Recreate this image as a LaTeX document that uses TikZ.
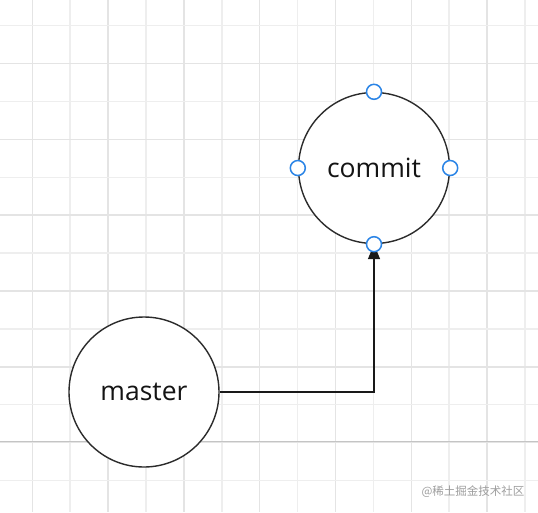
\documentclass[tikz,border=0pt]{standalone}
\usepackage{fontspec}
\setmainfont{Open Sans}
\newfontfamily\cjk{Noto Sans CJK SC}
\usepackage{tikz}
\usetikzlibrary{arrows.meta}

\definecolor{gridlight}{HTML}{EEEEEE}
\definecolor{griddark}{HTML}{E4E4E4}
\definecolor{gridmajor}{HTML}{C4C4C4}
\definecolor{inkline}{HTML}{2B2B2B}
\definecolor{handleblue}{HTML}{2A84E6}

\tikzset{
  branch/.style={circle, draw=inkline, line width=1.4pt, fill=white,
    minimum size=151pt, inner sep=0pt, text=black!92,
    font=\fontsize{26.5}{30}\selectfont},
  handle/.style={circle, draw=handleblue, line width=1.5pt, fill=white,
    minimum size=15pt, inner sep=0pt},
  link/.style={draw=black!90, line width=1.5pt,
    -{Triangle[width=12pt,length=15pt]}}
}

\begin{document}
\begin{tikzpicture}[x=1pt,y=-1pt]
    \useasboundingbox (0,0) rectangle (538,512);
    \fill[white] (0,0) rectangle (538,512);

    % grid
    \foreach \k in {0,...,13} {
        \pgfmathsetmacro{\gx}{32.3+37.9*\k}
        \ifodd\k
          \draw[gridlight, line width=1.5pt] (\gx,0) -- (\gx,512);
        \else
          \draw[griddark, line width=1.5pt] (\gx,0) -- (\gx,512);
        \fi
      }
    \foreach \k in {0,...,12} {
        \pgfmathsetmacro{\gy}{25.7+37.9*\k}
        \ifodd\k
          \draw[griddark, line width=1.5pt] (0,\gy) -- (538,\gy);
        \else
          \draw[gridlight, line width=1.5pt] (0,\gy) -- (538,\gy);
        \fi
      }
    \draw[gridmajor, line width=1.5pt] (0,441.5) -- (538,441.5);

    % branches
    \node[branch] (commit) at (374,168) {commit};
    \node[branch, minimum size=150pt] (master) at (144,392) {master};
    \draw[link] (master.east) -| (commit.south);

    % handles
    \foreach \side in {north,east,south,west} {
        \node[handle] (commit-\side) at (commit.\side) {};
      }

    \node[text=black!38, font=\cjk\fontsize{11.5}{13}\selectfont]
      (mark) at (473,492) {@稀土掘金技术社区};
  \end{tikzpicture}
\end{document}
